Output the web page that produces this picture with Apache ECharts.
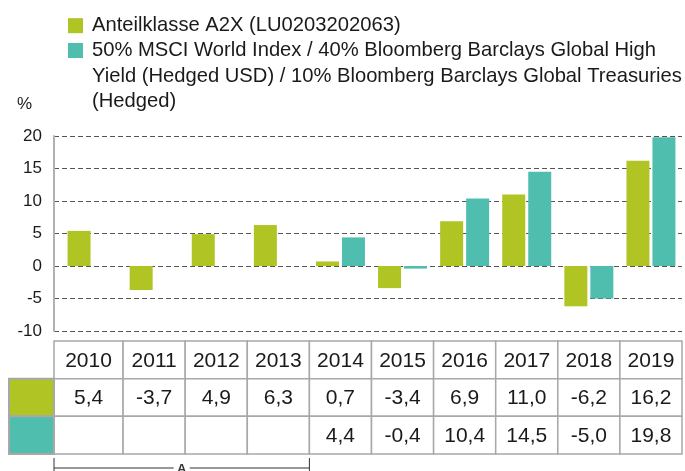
<!DOCTYPE html>
<html>
<head>
<meta charset="UTF-8">
<title>Anteilklasse A2X - Wertentwicklung</title>
<style>
    html, body { margin: 0; padding: 0; background: #fff; }
    #chart { width: 685px; height: 471px; }
</style>
<script src="https://cdn.jsdelivr.net/npm/echarts@6/dist/echarts.min.js"></script>
</head>
<body>
<div id="chart"></div>
<script>
    var years = ['2010', '2011', '2012', '2013', '2014', '2015', '2016', '2017', '2018', '2019'];
    var fundName = 'Anteilklasse A2X (LU0203202063)';
    var benchName = '50% MSCI World Index / 40% Bloomberg Barclays Global High\nYield (Hedged USD) / 10% Bloomberg Barclays Global Treasuries\n(Hedged)';
    var fundValues = [5.4, -3.7, 4.9, 6.3, 0.7, -3.4, 6.9, 11.0, -6.2, 16.2];
    var benchValues = [null, null, null, null, 4.4, -0.4, 10.4, 14.5, -5.0, 19.8];
    var yRange = [-10, 20];
    var yStep = 5;
    var bracketLabel = 'A';
    var bracketSpan = [0, 3];   // 2010 - 2013

    var green = '#b0c424';
    var teal = '#50beae';
    var border = '#a8a8a8';
    var ink = '#1a1a1a';
    var font = '"Liberation Sans", Arial, sans-serif';
    var firstColPad = 7;   // first table column reaches back to the y axis
    var keyWidth = 45;
    var lineH = 25.3;

    function fmt(v) {
        return v == null ? '' : v.toFixed(1).replace('.', ',');
    }

    // table cells, row 0 = years, row 1/2 = values with colour key
    var tableRows = [
        { key: null, texts: years },
        { key: green, texts: fundValues.map(fmt) },
        { key: teal, texts: benchValues.map(fmt) }
    ];
    var cells = [];
    tableRows.forEach(function (r, ri) {
        r.texts.forEach(function (t, ci) {
            cells.push({ col: ci, row: ri, text: t, key: r.key });
        });
    });

    function renderCell(params, api) {
        var cell = cells[params.dataIndex];
        var c = api.coord([cell.col, cell.row]);
        var s = api.size([1, 1]);
        var x0 = c[0] - s[0] / 2, x1 = c[0] + s[0] / 2, y0 = c[1] - s[1] / 2;
        if (cell.col === 0) x0 -= firstColPad;
        var kids = [
            { type: 'rect', shape: { x: x0, y: y0, width: x1 - x0, height: s[1] },
              style: { fill: '#fff', stroke: border, lineWidth: 1.5 } },
            { type: 'text', style: { text: cell.text, x: (x0 + x1) / 2, y: c[1] + 1,
              align: 'center', verticalAlign: 'middle', font: '21px ' + font, fill: ink } }
        ];
        if (cell.col === 0 && cell.key) {
            kids.push({ type: 'rect', shape: { x: x0 - keyWidth, y: y0, width: keyWidth, height: s[1] },
                style: { fill: cell.key, stroke: border, lineWidth: 2 } });
        }
        return { type: 'group', children: kids };
    }

    function renderBracket(params, api) {
        var a = api.coord([bracketSpan[0], 2]);
        var b = api.coord([bracketSpan[1], 2]);
        var s = api.size([1, 1]);
        var x0 = a[0] - s[0] / 2 - firstColPad, x1 = b[0] + s[0] / 2;
        var yTop = a[1] + s[1] / 2 + 4, yLine = yTop + 10, yBot = yTop + 13;
        var xm = (x0 + x1) / 2;
        var st = { stroke: '#333', lineWidth: 1 };
        return { type: 'group', children: [
            { type: 'line', shape: { x1: x0, y1: yTop, x2: x0, y2: yBot }, style: st },
            { type: 'line', shape: { x1: x1, y1: yTop, x2: x1, y2: yBot }, style: st },
            { type: 'line', shape: { x1: x0, y1: yLine, x2: xm - 8, y2: yLine }, style: st },
            { type: 'line', shape: { x1: xm + 8, y1: yLine, x2: x1, y2: yLine }, style: st },
            { type: 'text', style: { text: bracketLabel, x: xm, y: yLine + 1, align: 'center',
              verticalAlign: 'middle', font: 'bold 13px ' + font, fill: '#333' } }
        ] };
    }

    var legendText = { fontSize: 20.2, lineHeight: lineH, color: ink, fontFamily: font, padding: [0, 0, 0, 4] };
    var chart = echarts.init(document.getElementById('chart'));
    var option = {
        backgroundColor: '#fff',
        animation: false,
        title: {
            text: '%', left: 12, top: 91,
            textStyle: { fontSize: 17, fontWeight: 'normal', color: ink, fontFamily: font }
        },
        legend: [
            {
                left: 68, top: 13, padding: 0,
                itemWidth: 15, itemHeight: 15,
                icon: 'rect', selectedMode: false,
                textStyle: legendText,
                data: [fundName]
            },
            {
                // tall icon box so the square sits on the first of three text lines
                left: 68, top: 38, padding: 0,
                itemWidth: 15, itemHeight: 3 * lineH,
                icon: 'path://M0,0h15M0,5h15v15h-15zM0,76h15', selectedMode: false,
                textStyle: legendText,
                data: [benchName]
            }
        ],
        grid: [
            { left: 54, right: 3, top: 136, height: 195 },
            { left: 61, right: 3, top: 136, height: 195 },
            { left: 61, right: 3, top: 341, height: 113 }
        ],
        xAxis: [
            { type: 'value', gridIndex: 0, min: 0, max: 1, show: false },
            { type: 'category', gridIndex: 1, data: years, show: false },
            { type: 'category', gridIndex: 2, data: years, show: false }
        ],
        yAxis: [
            {
                type: 'value', gridIndex: 0, min: yRange[0], max: yRange[1], interval: yStep,
                axisLine: { show: true, lineStyle: { color: '#b0b0b0', width: 2 } },
                axisTick: { show: false },
                axisLabel: { fontSize: 17, color: ink, fontFamily: font, margin: 12 },
                splitLine: { lineStyle: { color: '#555', width: 1, type: [5, 3] } }
            },
            { type: 'value', gridIndex: 1, min: yRange[0], max: yRange[1], interval: yStep, show: false },
            { type: 'category', gridIndex: 2, data: ['year', 'fund', 'bench'], inverse: true, show: false }
        ],
        series: [
            {
                name: fundName, type: 'bar', xAxisIndex: 1, yAxisIndex: 1,
                data: fundValues, barWidth: 23, barGap: '13%',
                itemStyle: { color: green }
            },
            {
                name: benchName, type: 'bar', xAxisIndex: 1, yAxisIndex: 1,
                data: benchValues, barWidth: 23, barGap: '13%',
                itemStyle: { color: teal }
            },
            {
                type: 'custom', xAxisIndex: 2, yAxisIndex: 2, silent: true,
                renderItem: renderCell,
                data: cells.map(function (c) { return [c.col, c.row]; })
            },
            {
                type: 'custom', xAxisIndex: 2, yAxisIndex: 2, silent: true,
                renderItem: renderBracket,
                data: [[bracketSpan[0], 2]]
            }
        ]
    };
    chart.setOption(option);
</script>
</body>
</html>
